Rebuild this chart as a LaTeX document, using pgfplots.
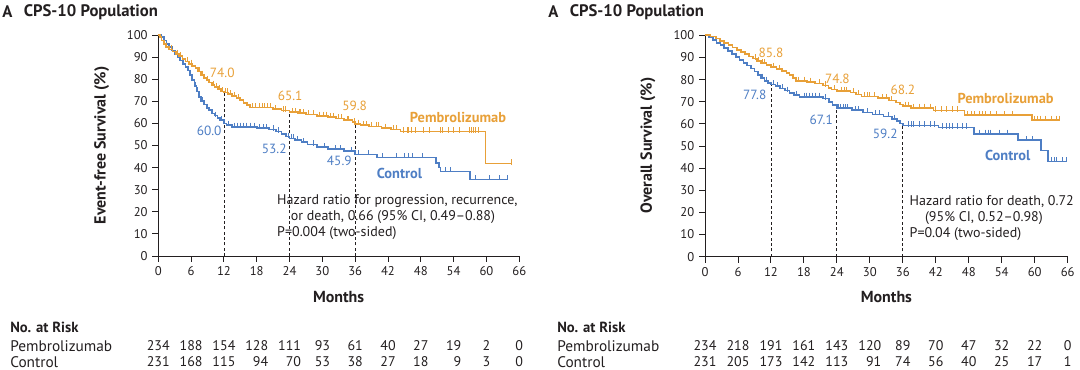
\documentclass[border=0pt]{standalone}
\usepackage{fontspec}
\setmainfont{PT Sans}
\usepackage{pgfplots}
\usepackage{pgfplotstable}
\pgfplotsset{compat=1.18}
\definecolor{pem}{RGB}{232,160,56}
\definecolor{ctl}{RGB}{78,126,196}
\definecolor{txt}{RGB}{35,31,32}

% ---------- Event-free survival, pembrolizumab: steps and censor marks ----------
\pgfplotstableread{
t S
0 100
0.3 99
0.6 97.5
1.0 96
1.4 94.5
2.0 93.5
2.6 92.5
3.2 91.5
3.8 90.5
4.4 89
5.0 88
5.6 87
6.2 86
6.8 85
7.3 83.5
7.8 82
8.3 80.5
8.8 79.5
9.3 78.5
9.8 77.5
10.3 76.5
10.9 75.5
11.5 74.5
12.0 74.0
12.8 73.2
13.5 72.5
14.3 71.5
15.0 70.5
15.6 69.3
16.2 68.2
16.8 67.2
21.0 66.4
22.5 65.8
24.0 65.1
25.5 64.6
27.0 64.0
29.0 63.4
31.0 62.8
32.5 62.2
34.0 61.4
35.5 60.6
36.0 59.8
37.0 59.2
38.5 58.6
40.8 58.0
42.5 57.3
44.3 56.3
59.8 41.8
64.5 41.8
}\efsPem
\pgfplotstableread{
t S
1.2 96
2.4 93.5
3.5 91.5
4.0 90.5
5.3 88
6.0 87
7.5 83.5
8.0 82
9.0 79.5
10.0 77.5
10.6 76.5
11.2 75.5
11.8 74.5
12.3 74.0
12.6 74.0
13.2 73.2
14.0 72.5
14.6 71.5
17.2 67.2
17.8 67.2
18.5 67.2
19.0 67.2
19.4 67.2
20.0 67.2
20.5 67.2
21.5 66.4
22.8 65.8
23.3 65.8
24.5 65.1
25.0 65.1
25.8 64.6
26.0 64.6
26.5 64.6
27.5 64.0
28.3 64.0
29.5 63.4
30.2 63.4
30.8 63.4
31.5 62.8
32.0 62.8
33.0 62.2
33.5 62.2
34.5 61.4
34.8 61.4
35.8 60.6
36.5 59.8
37.5 59.2
38.0 59.2
39.0 58.6
39.8 58.6
40.3 58.6
41.5 58.0
43.0 57.3
43.5 57.3
44.8 56.3
45.5 56.3
45.8 56.3
46.2 56.3
47.0 56.3
48.5 56.3
49.5 56.3
51.5 56.3
52.0 56.3
53.0 56.3
54.0 56.3
55.0 56.3
56.8 56.3
57.2 56.3
57.6 56.3
58.0 56.3
58.5 56.3
64.5 41.8
}\efsPemC

% ---------- Event-free survival, control ----------
\pgfplotstableread{
t S
0 100
0.5 99
1.0 97.5
1.5 96
2.0 94.5
2.5 93
3.0 91.5
3.5 90
4.0 88.5
4.5 87
5.0 85.5
5.4 84
5.8 82
6.2 79.5
6.6 77
7.0 74.5
7.4 72
7.8 70
8.3 68.5
8.8 67
9.3 66
9.8 64.5
10.3 63.5
10.8 62.5
11.3 61.5
12.0 60.0
12.5 59.2
13.5 58.5
18.0 57.8
20.3 57.2
21.5 56.3
22.5 55.3
23.3 54.0
24.0 53.2
25.0 52.5
26.2 51.5
27.3 50.4
29.0 49.2
31.0 48.3
34.0 47.5
36.0 45.9
40.0 44.6
50.8 42.2
51.3 40.0
51.6 38.3
57.0 34.6
63.8 34.6
}\efsCtl
\pgfplotstableread{
t S
6.8 77
7.2 74.5
8.0 70
9.0 67
10.5 63.5
11.5 61.5
12.8 59.2
14.0 58.5
14.5 58.5
15.0 58.5
15.5 58.5
16.2 58.5
16.8 58.5
17.5 58.5
18.5 57.8
19.2 57.8
19.8 57.8
21.0 57.2
22.0 56.3
23.8 54.0
24.3 53.2
24.7 53.2
25.5 52.5
26.6 51.5
28.3 50.4
30.3 49.2
32.3 48.3
33.3 48.3
35.3 47.5
36.5 45.9
38.5 45.9
41.0 44.6
43.5 44.6
45.0 44.6
45.7 44.6
46.5 44.6
48.3 44.6
52.5 38.3
53.5 38.3
58.0 34.6
60.5 34.6
62.3 34.6
63.8 34.6
}\efsCtlC

% ---------- Overall survival, pembrolizumab ----------
\pgfplotstableread{
t S
0 100
1.0 99.5
2.0 98.5
2.7 97.5
3.5 96.5
4.3 95.5
5.0 94.5
5.8 93.5
6.5 92.5
7.3 91.5
8.0 90.5
8.7 89.5
9.5 88.5
10.2 87.5
11.2 86.5
12.0 85.8
13.0 84.8
14.0 84.0
14.8 83.0
15.4 82.0
15.9 80.8
16.5 79.5
18.5 79.0
20.0 78.3
21.5 77.3
22.5 76.3
23.0 75.5
24.0 74.8
26.5 74.2
27.5 73.3
28.5 72.4
31.5 71.6
33.5 70.6
34.8 69.6
35.5 68.8
36.0 68.2
37.5 67.3
41.6 66.0
47.2 63.9
59.5 61.8
64.5 61.8
}\osPem
\pgfplotstableread{
t S
9.2 89.5
9.8 88.5
10.5 87.5
10.8 87.5
12.5 85.8
13.5 84.8
16.0 80.8
17.0 79.5
18.0 79.5
19.2 79.0
20.8 78.3
22.0 77.3
23.5 75.5
24.8 74.8
25.3 74.8
25.8 74.8
27.0 74.2
28.0 73.3
29.0 72.4
29.5 72.4
30.0 72.4
30.8 72.4
32.3 71.6
33.0 71.6
34.0 70.6
36.5 68.2
37.0 68.2
38.0 67.3
39.0 67.3
40.0 67.3
41.0 67.3
42.0 66.0
43.0 66.0
44.0 66.0
45.0 66.0
46.0 66.0
47.7 63.9
48.5 63.9
49.0 63.9
50.0 63.9
50.5 63.9
51.0 63.9
52.0 63.9
53.0 63.9
54.5 63.9
56.0 63.9
60.0 61.8
60.5 61.8
61.0 61.8
62.0 61.8
63.0 61.8
64.0 61.8
64.5 61.8
}\osPemC

% ---------- Overall survival, control ----------
\pgfplotstableread{
t S
0 100
0.7 99
1.4 97.8
2.1 96.6
2.8 95.5
3.5 94.3
4.2 93
4.9 91.6
5.6 90.2
6.3 88.8
7.0 87.6
7.7 86.3
8.4 85.0
9.0 83.6
9.6 82.2
10.2 80.8
10.8 79.5
11.5 78.5
12.0 77.8
12.8 77.0
13.6 76.0
14.5 75.0
15.4 74.0
16.2 73.0
17.2 72.2
21.5 71.4
22.6 70.0
23.2 68.6
24.0 67.1
26.7 66.2
28.8 65.2
30.5 64.3
32.5 63.3
34.0 62.3
35.0 61.3
35.5 60.2
36.0 59.2
42.5 58.3
49.0 55.5
57.0 52.6
61.2 48.0
62.4 43.0
65.8 43.0
}\osCtl
\pgfplotstableread{
t S
10.5 80.8
11.2 79.5
12.4 77.8
13.2 77.0
14.0 76.0
15.0 75.0
16.6 73.0
18.0 72.2
18.5 72.2
19.0 72.2
19.5 72.2
20.0 72.2
20.8 72.2
22.0 71.4
24.3 67.1
24.7 67.1
25.1 67.1
25.6 67.1
26.0 67.1
27.3 66.2
28.0 66.2
29.5 65.2
31.0 64.3
31.8 64.3
33.3 63.3
34.5 62.3
37.0 59.2
37.5 59.2
38.0 59.2
39.0 59.2
40.0 59.2
41.0 59.2
41.8 59.2
43.2 58.3
44.0 58.3
44.5 58.3
45.0 58.3
46.0 58.3
46.8 58.3
47.5 58.3
50.0 55.5
51.0 55.5
51.5 55.5
52.0 55.5
53.5 55.5
55.0 55.5
58.5 52.6
59.5 52.6
63.0 43.0
63.5 43.0
64.0 43.0
65.0 43.0
65.8 43.0
}\osCtlC

\pgfplotsset{
  km/.style={
    scale only axis,
    xmin=0, xmax=66, ymin=0, ymax=100,
    xtick={0,6,...,66}, ytick={0,10,...,100},
    axis lines*=left,
    axis line style={line width=0.7pt, txt, -},
    tick style={line width=0.7pt, txt},
    major tick length=4.5pt,
    tick align=outside,
    tick label style={font=\fontsize{9.5}{11}\selectfont, text=txt},
    /pgf/number format/assume math mode=true,
    clip=false,
  },
  curve/.style={const plot, line width=1.25pt, color=#1, mark=none},
  cens/.style={only marks, mark=|, mark size=1.9pt, color=#1,
    mark options={line width=0.6pt, yshift=1.2pt}},
}
\tikzset{dashln/.style={txt, line width=0.6pt, dash pattern=on 2.2pt off 1.8pt}}

\begin{document}
\begin{tikzpicture}
\useasboundingbox (0,0) rectangle (810pt,277.5pt);

% ---------- Left panel ----------
\begin{axis}[km, at={(118.7pt,85.5pt)}, anchor=south west,
  width=270.75pt, height=165.75pt]
  \draw[dashln] (axis cs:12,0) -- (axis cs:12,74.0);
  \draw[dashln] (axis cs:24,0) -- (axis cs:24,65.1);
  \draw[dashln] (axis cs:36,0) -- (axis cs:36,59.8);
  \addplot[cens=ctl] table[x=t,y=S] {\efsCtlC};
  \addplot[curve=ctl] table[x=t,y=S] {\efsCtl};
  \addplot[cens=pem] table[x=t,y=S] {\efsPemC};
  \addplot[curve=pem] table[x=t,y=S] {\efsPem};
  \begin{scope}[every node/.style={font=\fontsize{10}{12}\selectfont, inner sep=0pt}]
  \node[text=pem] at (axis cs:11.7,82.8) {74.0};
  \node[text=pem] at (axis cs:24.1,72.4) {65.1};
  \node[text=pem] at (axis cs:35.9,67.9) {59.8};
  \node[text=ctl, anchor=east] at (axis cs:11.6,56.8) {60.0};
  \node[text=ctl, anchor=east] at (axis cs:23.5,48.4) {53.2};
  \node[text=ctl, anchor=east] at (axis cs:35.4,43.0) {45.9};
  \node[text=pem, font=\fontsize{10.8}{12}\selectfont\bfseries] at (axis cs:54.8,62.9) {Pembrolizumab};
  \node[text=ctl, font=\fontsize{10.8}{12}\selectfont\bfseries] at (axis cs:44.1,37.2) {Control};
  \node[text=txt, anchor=west, font=\fontsize{10.5}{12}\selectfont] at (axis cs:21.7,24.9) {Hazard ratio for progression, recurrence,};
  \node[text=txt, anchor=west, font=\fontsize{10.5}{12}\selectfont] at (axis cs:24.2,17.6) {or death, 0.66 (95\% CI, 0.49–0.88)};
  \node[text=txt, anchor=west, font=\fontsize{10.5}{12}\selectfont] at (axis cs:21.7,10.4) {P=0.004 (two-sided)};
  \end{scope}
\end{axis}

% ---------- Right panel ----------
\begin{axis}[km, at={(528.75pt,85.0pt)}, anchor=south west,
  width=272pt, height=166pt]
  \draw[dashln] (axis cs:12,0) -- (axis cs:12,77.8);
  \draw[dashln] (axis cs:24,0) -- (axis cs:24,67.1);
  \draw[dashln] (axis cs:36,0) -- (axis cs:36,59.2);
  \addplot[cens=ctl] table[x=t,y=S] {\osCtlC};
  \addplot[curve=ctl] table[x=t,y=S] {\osCtl};
  \addplot[cens=pem] table[x=t,y=S] {\osPemC};
  \addplot[curve=pem] table[x=t,y=S] {\osPem};
  \begin{scope}[every node/.style={font=\fontsize{10}{12}\selectfont, inner sep=0pt}]
  \node[text=pem] at (axis cs:12.0,92.2) {85.8};
  \node[text=pem] at (axis cs:24.1,80.3) {74.8};
  \node[text=pem] at (axis cs:36.0,75.4) {68.2};
  \node[text=ctl, anchor=east] at (axis cs:11.2,73.2) {77.8};
  \node[text=ctl, anchor=east] at (axis cs:23.3,62.0) {67.1};
  \node[text=ctl, anchor=east] at (axis cs:35.1,55.5) {59.2};
  \node[text=pem, font=\fontsize{10.8}{12}\selectfont\bfseries] at (axis cs:54.7,71.6) {Pembrolizumab};
  \node[text=ctl, font=\fontsize{10.8}{12}\selectfont\bfseries] at (axis cs:55.1,45.5) {Control};
  \node[text=txt, anchor=west, font=\fontsize{10.5}{12}\selectfont] at (axis cs:37.2,24.8) {Hazard ratio for death, 0.72};
  \node[text=txt, anchor=west, font=\fontsize{10.5}{12}\selectfont] at (axis cs:40.0,17.4) {(95\% CI, 0.52–0.98)};
  \node[text=txt, anchor=west, font=\fontsize{10.5}{12}\selectfont] at (axis cs:37.2,10.2) {P=0.04 (two-sided)};
  \end{scope}
\end{axis}

% ---------- Outer texts (pixel coordinates, y measured from bottom) ----------
\begin{scope}[x=0.75pt, y=0.75pt, every node/.style={text=txt, inner sep=0pt, font=\fontsize{10.5}{12}\selectfont}]
  % titles
  \node[anchor=west, font=\fontsize{12.5}{14}\selectfont\bfseries] at (2,358) {A};
  \node[anchor=west, font=\fontsize{12.5}{14}\selectfont\bfseries] at (23.5,358) {CPS-10 Population};
  \node[anchor=west, font=\fontsize{12.5}{14}\selectfont\bfseries] at (548,358) {A};
  \node[anchor=west, font=\fontsize{12.5}{14}\selectfont\bfseries] at (569.5,358) {CPS-10 Population};
  % axis labels
  \node[rotate=90, font=\fontsize{12}{14}\selectfont\bfseries] at (101.6,224.5) {Event-free Survival (\%)};
  \node[rotate=90, font=\fontsize{12}{14}\selectfont\bfseries] at (648,224.5) {Overall Survival (\%)};
  \node[font=\fontsize{12}{14}\selectfont\bfseries] at (338.6,73) {Months};
  \node[font=\fontsize{12}{14}\selectfont\bfseries] at (886.4,73) {Months};
  % risk tables
  \node[anchor=west, font=\fontsize{11}{13}\selectfont\bfseries] at (10,43) {No. at Risk};
  \node[anchor=west, font=\fontsize{11.5}{13}\selectfont] at (10,24) {Pembrolizumab};
  \node[anchor=west, font=\fontsize{11.5}{13}\selectfont] at (10,8) {Control};
  \node[anchor=west, font=\fontsize{11}{13}\selectfont\bfseries] at (557,43) {No. at Risk};
  \node[anchor=west, font=\fontsize{11.5}{13}\selectfont] at (557,24) {Pembrolizumab};
  \node[anchor=west, font=\fontsize{11.5}{13}\selectfont] at (557,8) {Control};
  \foreach \a/\b/\w [count=\k from 0] in {234/231/000,188/168/000,154/115/000,128/94/000,111/70/000,93/53/00,61/38/00,40/27/00,27/18/00,19/9/00,2/3/0,0/0/0} {
    \node at ({158.3+32.818*\k},24) {\phantom{\w}\llap{\a}};
    \node at ({158.3+32.818*\k},8) {\phantom{\w}\llap{\b}};
  }
  \foreach \a/\b/\w [count=\k from 0] in {234/231/000,218/205/000,191/173/000,161/142/000,143/113/000,120/91/000,89/74/00,70/56/00,47/40/00,32/25/00,22/17/00,0/1/0} {
    \node at ({705+32.97*\k},24) {\phantom{\w}\llap{\a}};
    \node at ({705+32.97*\k},8) {\phantom{\w}\llap{\b}};
  }
\end{scope}
\end{tikzpicture}
\end{document}
